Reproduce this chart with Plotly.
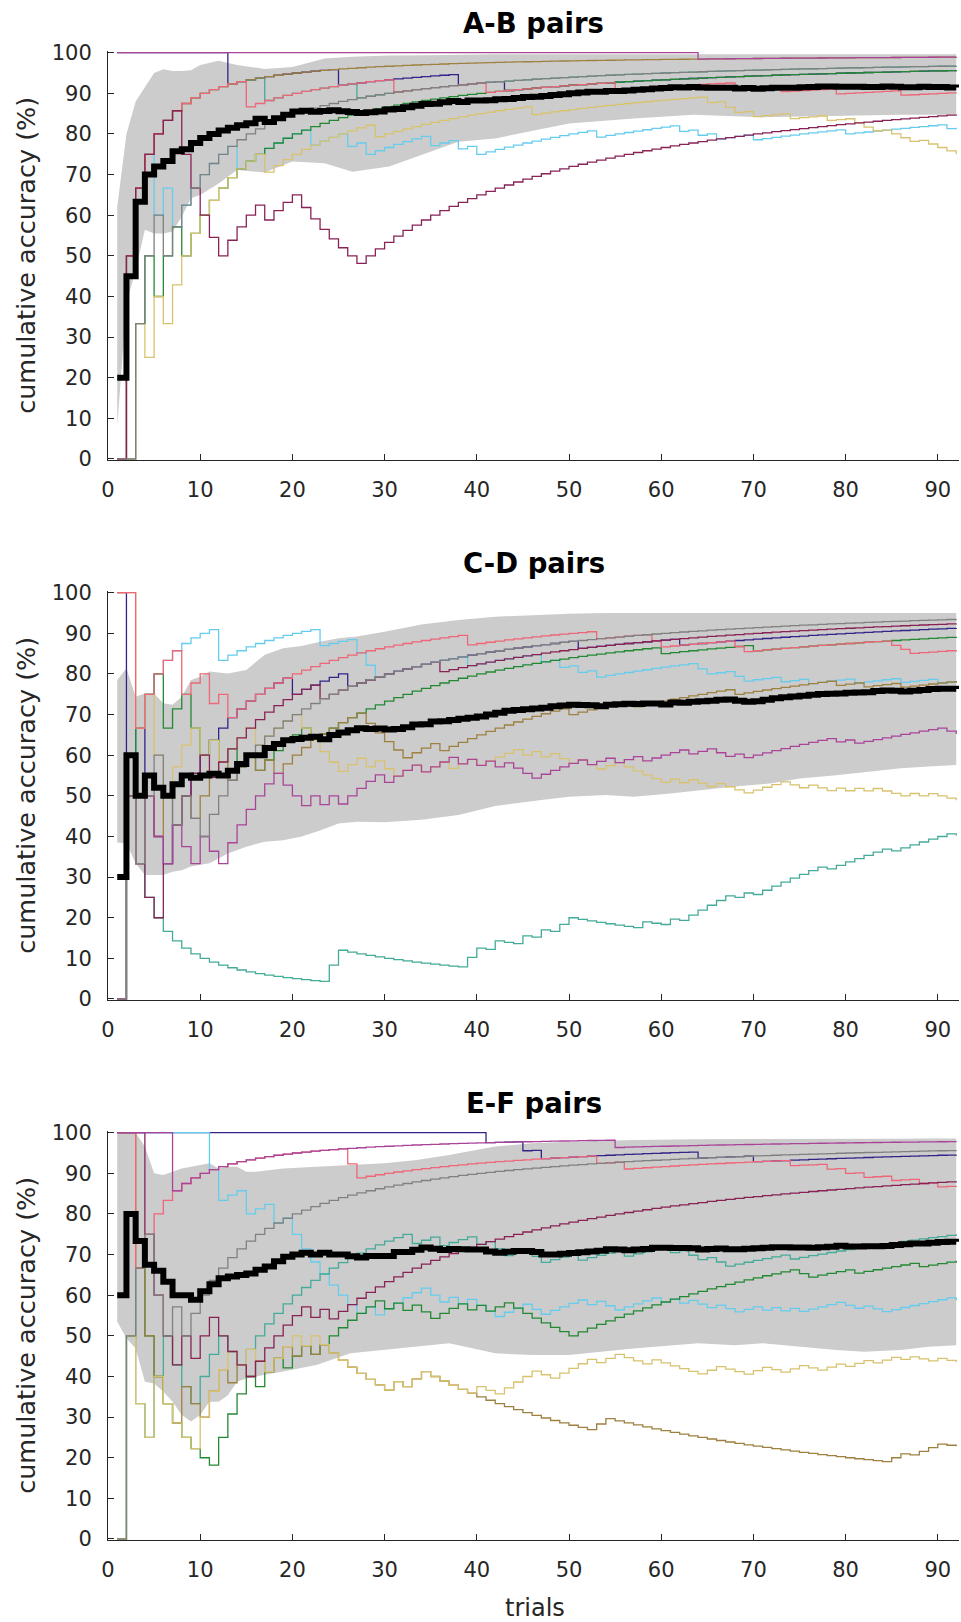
import numpy as np
import plotly.graph_objects as go

# ------------------------------------------------------------------ data
N_TRIALS = 92
TRIALS = np.arange(1, N_TRIALS + 1)

PANEL_TITLES = ["A-B pairs", "C-D pairs", "E-F pairs"]
X_TICKS = list(range(0, 91, 10))
Y_TICKS = list(range(0, 101, 10))

SUBJECTS = ["navy", "cyan", "teal", "green", "olive", "sand", "rose", "wine", "purple", "grey"]
SUBJECT_COLORS = ["#332288", "#66CCEE", "#44AA99", "#228833", "#9E8040",
                  "#D8C26E", "#EE6677", "#882255", "#AA4499", "#808080"]

# trials answered wrongly ("miss") or correctly ("hit") by each subject
# ---- A-B pairs
ab_navy_miss = [13, 25, 38, 43]
ab_cyan_miss = [1, 5, 7, 14, 22, 26, 28, 35, 38, 40, 53, 62, 64, 66, 70, 80, 91]
ab_teal_miss = [1, 17, 27]
ab_green_miss = [1, 2, 5, 8]
ab_olive_miss = [1]
ab_sand_miss = [1, 2, 4, 6, 17, 29, 46, 65, 67, 68, 70, 74, 78, 81, 82, 83, 85, 86, 87, 89, 90, 91, 92]
ab_rose_miss = [1, 15, 31, 41, 55, 68, 73, 79, 86]
ab_wine_miss = [1, 8, 9, 10, 11, 12, 17, 21, 22, 23, 24, 25, 26, 27]
ab_purple_miss = [64]
ab_grey_miss = [1, 2, 6]

# ---- C-D pairs
cd_navy_miss = [2, 4, 5, 6, 20, 26, 51, 62]
cd_cyan_miss = [1, 12, 23, 27, 28, 29, 39, 47, 49, 51, 53, 64, 65, 68, 69, 73, 76, 81, 86, 90]
cd_teal_hit = [2, 24, 25, 39, 40, 42, 45, 47, 49, 50, 58, 61, 63, 64, 65, 66, 67, 69, 71, 72,
               73, 74, 75, 76, 77, 79, 80, 81, 82, 83, 84, 86, 87, 88, 89, 90, 91]
cd_green_miss = [1, 6, 9, 10, 12, 14, 16, 22, 60, 70]
cd_olive_miss = [1, 3, 5, 7, 9, 13, 16, 18, 28, 29, 30, 31, 32, 36, 50, 57, 68, 79, 82, 86]
cd_sand_miss = [3, 5, 6, 10, 12, 16, 21, 22, 23, 24, 25, 28, 30, 31, 34, 37, 40, 45, 47, 49,
                50, 52, 53, 56, 57, 58, 59, 60, 62, 64, 65, 67, 68, 69, 74, 75, 77, 78, 80,
                82, 84, 85, 86, 88, 90, 91, 92]
cd_rose_miss = [3, 8, 11, 13, 39, 53, 59, 60, 68, 69, 85, 86, 87]
cd_wine_miss = [1, 3, 4, 5, 11, 23, 36]
cd_purple_miss = [1, 3, 5, 6, 8, 9, 11, 12, 19, 20, 21, 23, 25, 30, 34, 38, 40, 42, 44, 45,
                  46, 52, 55, 58, 63, 66, 67, 69, 79, 81, 91, 92]
cd_grey_miss = [1, 3, 6, 7, 9, 10]

# ---- E-F pairs
ef_navy_miss = [41, 45, 47, 64, 70]
ef_cyan_miss = [11, 12, 15, 18, 20, 21, 22, 23, 24, 25, 26, 27, 29, 35, 36, 38, 40, 41, 42,
                46, 47, 52, 54, 55, 60, 62, 64, 65, 67, 68, 71, 73, 75, 80, 81, 83, 84, 92]
ef_teal_miss = [1, 3, 4, 7, 8, 9, 13, 14, 33, 36, 40, 42, 43, 46, 47, 51, 56, 61, 63, 64,
                66, 67, 74]
ef_green_miss = [1, 4, 5, 6, 7, 8, 9, 10, 11, 16, 19, 22, 30, 32, 34, 35, 39, 41, 44, 45,
                 46, 47, 48, 49, 50, 75, 76, 81, 88]
ef_olive_hit = [1, 2, 8, 11, 12, 14, 16, 18, 19, 21, 23, 31, 33, 34, 53, 54, 85, 86, 88, 89, 90]
ef_sand_hit = [2, 5, 10, 11, 12, 13, 15, 18, 19, 20, 22, 31, 33, 34, 40, 43, 44, 45, 46, 49,
               50, 51, 52, 54, 55, 59, 65, 66, 70, 71, 74, 75, 78, 79, 81, 82, 84, 85, 87, 90]
ef_rose_miss = [3, 26, 27, 53, 56, 74, 78, 80, 82, 85, 88, 90]
ef_wine_miss = [4, 5, 6, 7, 9, 12, 13, 14, 15, 22, 24]
ef_purple_miss = [7, 55]
ef_grey_miss = [1, 5, 6, 8]

# shaded band (lower / upper edge, %) read at selected trials
ab_band_x = [1, 2, 3, 4, 5, 6, 7, 8, 9, 10, 12, 14, 17, 20, 23.5, 26.5, 30.5, 34.5, 38, 42,
             50, 57, 63.5, 71, 78.5, 86, 92]
ab_band_lo = [8, 38.3, 46.5, 56.4, 55.5, 55.5, 56, 59.6, 64.2, 65, 67.8, 71.1, 70.5, 73.2,
              72.8, 70.7, 72, 75.2, 78.1, 78.9, 82.6, 83.8, 84.7, 84.1, 84.4, 84.7, 84.7]
ab_band_hi = [62, 80, 88, 91.5, 95, 95.9, 95.5, 95.5, 95.7, 97, 98, 97, 96, 96.5, 98.6, 99,
              99.3, 99.4, 99.5, 99.6, 99.6, 99.6, 99.6, 99.6, 99.6, 99.6, 99.6]

cd_band_x = [1, 2, 3, 4, 5, 6, 7, 8, 9, 10, 11, 13, 15, 17, 19, 21, 23, 25, 27, 30, 34, 38,
             42, 47, 50, 54, 57, 61, 64, 68, 72, 75, 79, 82, 86, 89, 92]
cd_band_lo = [38.5, 38.3, 33.4, 30.5, 30.5, 30.5, 31.3, 31.7, 32.6, 33, 33.4, 35.8, 37.5,
              38.7, 39.1, 40, 41.5, 43.2, 43.6, 43.5, 44.1, 45.3, 47.5, 49, 49.8, 50.2, 49.8,
              50.6, 51.4, 52.3, 53.1, 54.3, 55.1, 55.9, 56.8, 57.2, 57.6]
cd_band_hi = [78.5, 81.4, 74.4, 75.2, 75.2, 72.8, 72.4, 74.4, 78.5, 79.3, 80.6, 80.1, 81,
              84.7, 86.3, 86.9, 87.9, 88.8, 89.2, 90.4, 92.2, 93.3, 94.1, 94.6, 94.8, 95,
              95, 95, 95, 95, 95, 95, 95, 95, 95, 95, 95]

ef_band_x = [1, 2, 3, 4, 5, 6, 7, 8, 9, 10, 11, 12, 13, 14, 15, 16, 19, 22.6, 26.3, 30, 33.5,
             37, 42, 46, 50, 57, 64, 68, 71, 75, 79, 82, 86, 89, 92]
ef_band_lo = [53.5, 49.4, 46.9, 38.7, 38.3, 36.3, 33.8, 30.5, 28.9, 30.5, 33.8, 33.8, 35.4,
              38.7, 39.5, 40, 41.2, 42.8, 45.7, 46.5, 47.3, 48.2, 45.7, 45.3, 45.3, 46.9,
              48.2, 47.7, 48.2, 47.3, 46.5, 46.1, 46.5, 47.3, 47.7]
ef_band_hi = [100, 100, 100, 96.6, 90, 89.6, 90.4, 91.2, 91.6, 92, 92.5, 91.2, 91.6, 91.6,
              90.4, 90.4, 91.2, 91.6, 92, 92.5, 93.3, 94.5, 96.6, 97.4, 97.8, 98.2, 98.4,
              98.4, 98.4, 98.4, 98.4, 98.5, 98.5, 98.6, 98.6]


# ------------------------------------------------------------------ helpers
def outcomes(miss=None, hit=None):
    if hit is not None:
        o = np.zeros(N_TRIALS)
        o[np.array(hit) - 1] = 1
    else:
        o = np.ones(N_TRIALS)
        o[np.array(miss) - 1] = 0
    return o


def cumulative_accuracy(o):
    return 100.0 * np.cumsum(o) / TRIALS


panels = [
    dict(subjects=[outcomes(miss=ab_navy_miss), outcomes(miss=ab_cyan_miss),
                   outcomes(miss=ab_teal_miss), outcomes(miss=ab_green_miss),
                   outcomes(miss=ab_olive_miss), outcomes(miss=ab_sand_miss),
                   outcomes(miss=ab_rose_miss), outcomes(miss=ab_wine_miss),
                   outcomes(miss=ab_purple_miss), outcomes(miss=ab_grey_miss)],
         band=(ab_band_x, ab_band_lo, ab_band_hi)),
    dict(subjects=[outcomes(miss=cd_navy_miss), outcomes(miss=cd_cyan_miss),
                   outcomes(hit=cd_teal_hit), outcomes(miss=cd_green_miss),
                   outcomes(miss=cd_olive_miss), outcomes(miss=cd_sand_miss),
                   outcomes(miss=cd_rose_miss), outcomes(miss=cd_wine_miss),
                   outcomes(miss=cd_purple_miss), outcomes(miss=cd_grey_miss)],
         band=(cd_band_x, cd_band_lo, cd_band_hi)),
    dict(subjects=[outcomes(miss=ef_navy_miss), outcomes(miss=ef_cyan_miss),
                   outcomes(miss=ef_teal_miss), outcomes(miss=ef_green_miss),
                   outcomes(hit=ef_olive_hit), outcomes(hit=ef_sand_hit),
                   outcomes(miss=ef_rose_miss), outcomes(miss=ef_wine_miss),
                   outcomes(miss=ef_purple_miss), outcomes(miss=ef_grey_miss)],
         band=(ef_band_x, ef_band_lo, ef_band_hi)),
]

# ------------------------------------------------------------------ layout geometry (pixels)
W, H = 961, 1622
X_LEFT, X_RIGHT = 108.0, 959.0
X_MAX = 92.3
PANEL_TOP = [52.7, 592.7, 1132.7]     # pixel of 100 %
PANEL_H = 406.3                       # pixels for 0..100 %
PAD = 0.35                            # % padding so lines at 0/100 are not clipped
PX_PER_PCT = PANEL_H / 100.0

AXIS_COLOR = "#262626"
FONT = "DejaVu Sans, Verdana, sans-serif"
BAND_COLOR = "#CCCCCC"

fig = go.Figure()
layout = dict(
    width=W, height=H, autosize=False,
    margin=dict(l=0, r=0, t=0, b=0, pad=0),
    paper_bgcolor="white", plot_bgcolor="white",
    showlegend=False,
    font=dict(family=FONT, color=AXIS_COLOR),
)

annotations = []
for i, panel in enumerate(panels):
    suffix = "" if i == 0 else str(i + 1)
    xa, ya = "x" + suffix, "y" + suffix
    top_px = PANEL_TOP[i] - PAD * PX_PER_PCT
    bot_px = PANEL_TOP[i] + PANEL_H + PAD * PX_PER_PCT

    layout["xaxis" + suffix] = dict(
        domain=[X_LEFT / W, X_RIGHT / W], range=[0, X_MAX], anchor=ya,
        tickvals=X_TICKS, ticks="inside", ticklen=6, tickwidth=1, tickcolor=AXIS_COLOR,
        showline=True, linecolor=AXIS_COLOR, linewidth=1, mirror=False,
        showgrid=False, zeroline=False, ticklabelstandoff=10, automargin=False,
        tickfont=dict(family=FONT, size=21, color=AXIS_COLOR),
    )
    layout["yaxis" + suffix] = dict(
        domain=[1 - bot_px / H, 1 - top_px / H], range=[-PAD, 100 + PAD], anchor=xa,
        tickvals=Y_TICKS, ticks="inside", ticklen=6, tickwidth=1, tickcolor=AXIS_COLOR,
        showline=True, linecolor=AXIS_COLOR, linewidth=1, mirror=False,
        showgrid=False, zeroline=False, ticklabelstandoff=11, automargin=False,
        tickfont=dict(family=FONT, size=21, color=AXIS_COLOR),
    )

    bx, blo, bhi = panel["band"]
    fig.add_trace(go.Scatter(x=bx, y=blo, mode="lines", line=dict(width=0, color=BAND_COLOR),
                             xaxis=xa, yaxis=ya, hoverinfo="skip"))
    fig.add_trace(go.Scatter(x=bx, y=bhi, mode="lines", line=dict(width=0, color=BAND_COLOR),
                             fill="tonexty", fillcolor=BAND_COLOR,
                             xaxis=xa, yaxis=ya, hoverinfo="skip"))

    curves = [cumulative_accuracy(o) for o in panel["subjects"]]
    for name, color, c in zip(SUBJECTS, SUBJECT_COLORS, curves):
        fig.add_trace(go.Scatter(x=TRIALS, y=c, mode="lines", name=name,
                                 line=dict(color=color, width=1.3, shape="hv"),
                                 xaxis=xa, yaxis=ya))
    mean_curve = np.mean(np.vstack(curves), axis=0)
    fig.add_trace(go.Scatter(x=TRIALS, y=mean_curve, mode="lines", name="mean",
                             line=dict(color="black", width=6, shape="hv"),
                             xaxis=xa, yaxis=ya))

    annotations.append(dict(text="<b>%s</b>" % PANEL_TITLES[i], xref="paper", yref="paper",
                            x=(X_LEFT + X_RIGHT) / 2 / W, y=1 - (PANEL_TOP[i] - 30) / H,
                            xanchor="center", yanchor="middle", showarrow=False,
                            font=dict(family=FONT, size=27.5, color="black")))
    annotations.append(dict(text="cumulative accuracy (%)", xref="paper", yref="paper",
                            x=26 / W, y=1 - (PANEL_TOP[i] + PANEL_H / 2) / H, textangle=-90,
                            xanchor="center", yanchor="middle", showarrow=False,
                            font=dict(family=FONT, size=25.5, color=AXIS_COLOR)))

annotations.append(dict(text="trials", xref="paper", yref="paper",
                        x=535 / W, y=1 - 1608 / H, xanchor="center", yanchor="middle",
                        showarrow=False, font=dict(family=FONT, size=24, color=AXIS_COLOR)))
layout["annotations"] = annotations
fig.update_layout(**layout)

fig.write_html("out.html",
               post_script="document.body.style.margin='0';document.body.style.padding='0';")
